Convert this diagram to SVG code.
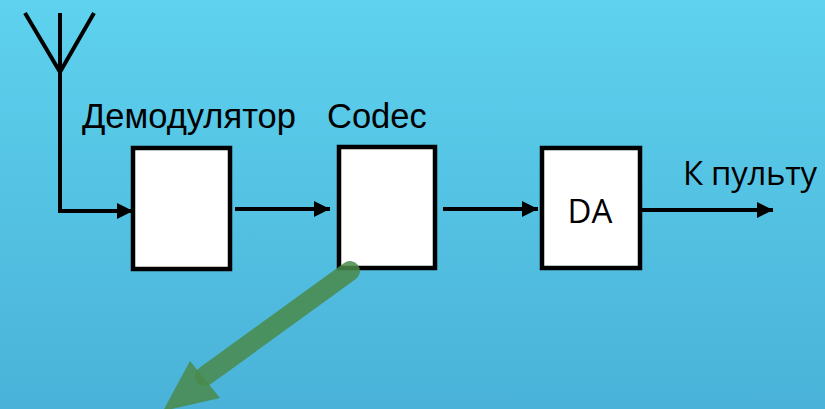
<svg xmlns="http://www.w3.org/2000/svg" width="825" height="409" viewBox="0 0 825 409">
<defs>
<linearGradient id="bg" x1="0" y1="0" x2="0" y2="1">
<stop offset="0" stop-color="#5ed2ee"/>
<stop offset="1" stop-color="#4ab2d8"/>
</linearGradient>
<marker id="ah" markerWidth="16" markerHeight="16" viewBox="0 0 16 16" refX="16" refY="8" orient="auto" markerUnits="userSpaceOnUse">
<path d="M0,0 L16,8 L0,16 Z" fill="#000"/>
</marker>
<style>
.box{fill:#fff;stroke:#000;stroke-width:4.5}
.wire{fill:none;stroke:#000;stroke-width:4}
.lbl{font-family:"Liberation Sans",Arial,sans-serif;font-size:34.5px;fill:#000}
.lbl2{font-family:"Open Sans","Noto Sans",sans-serif;font-size:33px;fill:#000}
</style>
</defs>
<rect width="825" height="409" fill="url(#bg)"/>
<g id="antenna">
<path class="wire" d="M25,13 L60,72 L94,13 M60,13 L60,213"/>
</g>
<g id="connectors">
<path class="wire" d="M60,211 L133,211" marker-end="url(#ah)"/>
<path class="wire" d="M235,209 L330,209" marker-end="url(#ah)"/>
<path class="wire" d="M443,209 L538,209" marker-end="url(#ah)"/>
<path class="wire" d="M642,210 L773,210" marker-end="url(#ah)"/>
</g>
<g id="demod">
<rect class="box" x="133" y="148" width="97" height="121"/>
<text class="lbl" x="82" y="128">Демодулятор</text>
</g>
<g id="codec">
<rect class="box" x="339" y="147" width="96" height="121"/>
<text class="lbl" x="327" y="128" font-size="35.5">Codec</text>
</g>
<g id="da">
<rect class="box" x="542" y="148" width="98" height="120"/>
<text class="lbl2" x="590" y="223" text-anchor="middle" font-size="35">DA</text>
</g>
<g id="out">
<text class="lbl2" x="683" y="185" font-size="33.5" textLength="134" lengthAdjust="spacing">К пульту</text>
</g>
<g id="bigarrow" opacity="0.85">
<path d="M350,271 L205,376" stroke="#4a8a4a" stroke-width="20" stroke-linecap="round" fill="none"/>
</g>
<g id="bigarrowhead" opacity="0.85">
<polygon points="190,361 220,398 163,411" fill="#4a8a4a"/>
</g>
</svg>
